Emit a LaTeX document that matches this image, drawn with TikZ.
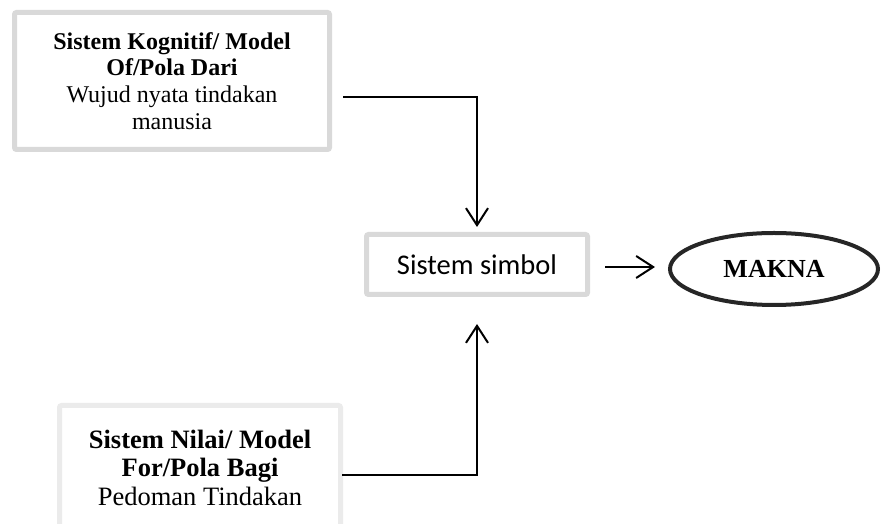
\documentclass[tikz,border=0pt]{standalone}
\usepackage{fontspec}
\setmainfont{Liberation Serif}
\newfontfamily\carlfont{Carlito}
\usetikzlibrary{arrows.meta,shapes.geometric}
\definecolor{boxgray}{HTML}{D9D9D9}
\definecolor{boxlight}{HTML}{EBEBEB}
\definecolor{ringdark}{HTML}{262626}
\begin{document}
\begin{tikzpicture}[x=1pt,y=1pt,
  framebox/.style={draw=#1, line width=5pt, rounded corners=2pt, inner sep=0pt, align=center, rectangle},
  conn/.style={line width=2pt, -{Straight Barb[length=17pt,width=22pt,line width=2pt]}},
  serif24/.style={font=\fontsize{24}{26.7}\selectfont}]
\useasboundingbox (0,0) rectangle (881,524);
\clip (0,0) rectangle (881,524);

\node[framebox=boxgray, serif24, minimum width=315pt, minimum height=137pt] (tb) at (172,443)
  {\textbf{Sistem Kognitif/ Model}\\ \textbf{Of/Pola Dari}\\ Wujud nyata tindakan\\ manusia};

\node[framebox=boxlight, font=\fontsize{26.5}{28.5}\selectfont, minimum width=281pt, minimum height=124pt] (bb) at (200,56.5)
  {\textbf{Sistem Nilai/ Model}\\ \textbf{For/Pola Bagi}\\ Pedoman Tindakan};

\node[framebox=boxgray, font=\carlfont\fontsize{28.5}{32}\selectfont, minimum width=221pt, minimum height=60pt] (ss) at (477,259.5)
  {Sistem simbol};

\node[ellipse, draw=ringdark, line width=4pt, inner sep=0pt, minimum width=208pt, minimum height=72pt,
  font=\bfseries\fontsize{26}{30}\selectfont] (mk) at (774,255) {\raisebox{-3pt}{MAKNA}};

\coordinate (c1) at (343,427);
\coordinate (c2) at (342,49);

\draw[conn] (c1) -| ([yshift=5pt]ss.north);
\draw[conn] (c2) -| ([yshift=-27pt]ss.south);
\draw[conn] ([xshift=15pt,yshift=-2.5pt]ss.east) -- ([xshift=-13pt,yshift=2pt]mk.west);
\end{tikzpicture}
\end{document}
